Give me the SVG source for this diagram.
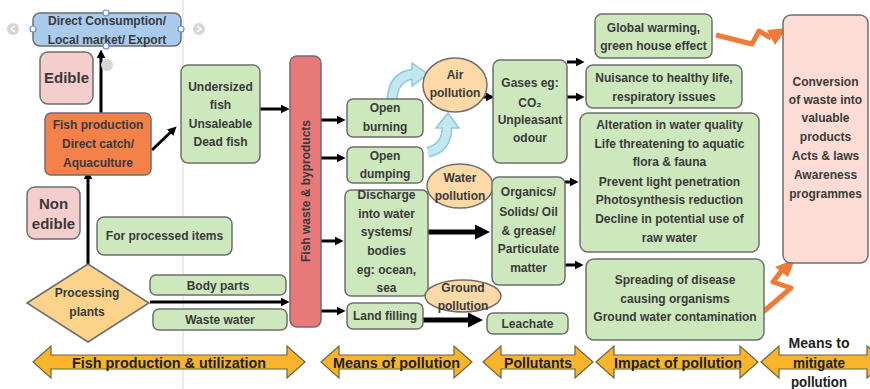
<svg xmlns="http://www.w3.org/2000/svg" width="870" height="389" viewBox="0 0 870 389">
<defs>
<style>
.t{font-family:"Liberation Sans",Arial,sans-serif;font-weight:bold;font-size:12px;fill:#3a3a3a;text-anchor:middle}
.big{font-size:15px}
.g{fill:#cde8bd;stroke:#6e6e6e;stroke-width:1.5}
.pk{fill:#f4cdcd;stroke:#6e6e6e;stroke-width:1.5}
.el{fill:#fcd9a6;stroke:#6e6e6e;stroke-width:1.5}
.c{stroke:#000;stroke-width:3;fill:none;marker-end:url(#ah)}
.ct{stroke:#000;stroke-width:5;fill:none;marker-end:url(#ah)}
.ya{fill:#f8b52c;stroke:#6e6242;stroke-width:1.2}
.at{font-family:"Liberation Sans Narrow","Liberation Sans",Arial,sans-serif;font-weight:bold;font-size:15px;fill:#222;text-anchor:middle}
.zz{stroke:#f07a3a;stroke-width:5;fill:none;stroke-linejoin:round}
.bl{fill:none;stroke:#8ec9da;stroke-width:11}
.bli{fill:none;stroke:#c3e6ef;stroke-width:8}
</style>
<marker id="ah" viewBox="0 0 10 10" refX="6" refY="5" markerWidth="3" markerHeight="3" orient="auto" markerUnits="strokeWidth">
<path d="M0,0 L10,5 L0,10 z" fill="#000"/>
</marker>
</defs>
<rect width="870" height="389" fill="#fff"/>
<line x1="183" y1="0" x2="183" y2="389" stroke="#e4e4e4" stroke-width="1.5"/>

<g id="connectors">
<line class="c" x1="101" y1="113" x2="101" y2="53"/>
<line class="c" x1="152" y1="150" x2="174" y2="129"/>
<line class="c" x1="259" y1="109" x2="286" y2="109"/>
<line class="c" x1="88" y1="265" x2="88" y2="174"/>
<line class="c" x1="150" y1="302" x2="286" y2="302"/>
<line class="c" x1="321" y1="120" x2="342" y2="120"/>
<line class="c" x1="321" y1="158" x2="342" y2="158"/>
<line class="c" x1="321" y1="241" x2="340" y2="241"/>
<line class="c" x1="321" y1="311" x2="342" y2="311"/>
<line class="c" x1="482" y1="97" x2="491" y2="97"/>
<line class="ct" x1="428" y1="232" x2="484" y2="232"/>
<line class="ct" x1="423" y1="320" x2="477" y2="320"/>
<line class="c" x1="567" y1="62" x2="581" y2="62"/>
<line class="c" x1="567" y1="97" x2="581" y2="97"/>
<line class="c" x1="565" y1="182" x2="575" y2="182"/>
<line class="c" x1="565" y1="265" x2="580" y2="265"/>
<path class="bl" d="M392 100 Q393 76 414 74"/>
<path class="bl" d="M428 152 Q447 148 447 127"/>
<polygon points="412,63 428,74 412,86" fill="#c3e6ef" stroke="#8ec9da" stroke-width="1.5"/>
<polygon points="436,128 448,113 459,128" fill="#c3e6ef" stroke="#8ec9da" stroke-width="1.5"/>
<path class="bli" d="M392 101 Q393 76 414 74"/>
<path class="bli" d="M428 152 Q447 148 447 127"/>
<polyline class="zz" points="716,35 752,44 759,31 771,38"/>
<polygon points="767,30 787,28 775,45" fill="#f07a3a"/>
<polyline class="zz" points="763,312 791,288 773,282 782,270"/>
<polygon points="775,267 795,259 788,277" fill="#f07a3a"/>
</g>

<g id="handles">
<circle cx="13" cy="29" r="6" fill="#d6d6d6"/><path d="M15,26 L11,29 L15,32" fill="none" stroke="#fff" stroke-width="1.5"/>
<circle cx="199" cy="29" r="6" fill="#d6d6d6"/><path d="M197,26 L201,29 L197,32" fill="none" stroke="#fff" stroke-width="1.5"/>
<circle cx="107" cy="65" r="6" fill="#d6d6d6"/>
</g>

<g id="direct">
<rect x="33" y="13" width="148" height="33" rx="7" fill="#a9cbee" stroke="#6e6e6e" stroke-width="1.5"/>
<text class="t" x="107" y="25">Direct Consumption/</text>
<text class="t" x="107" y="44">Local market/ Export</text>
<g fill="#fff" stroke="#5b8fd6" stroke-width="1.2">
<circle cx="106" cy="13" r="3"/><circle cx="33" cy="29" r="3"/><circle cx="181" cy="29" r="3"/><circle cx="106" cy="46" r="3"/>
</g>
</g>
<g id="edible">
<rect class="pk" x="40" y="52" width="53" height="52" rx="8"/>
<text class="t big" x="66.5" y="83">Edible</text>
</g>
<g id="fishprod">
<rect x="45" y="113" width="106" height="62" rx="6" fill="#f4804a" stroke="#6e6e6e" stroke-width="1.5"/>
<text class="t" x="98" y="129">Fish production</text>
<text class="t" x="98" y="148">Direct catch/</text>
<text class="t" x="98" y="167">Aquaculture</text>
</g>
<g id="undersized">
<rect class="g" x="181" y="65" width="79" height="98" rx="7"/>
<text class="t" x="220.5" y="91">Undersized</text>
<text class="t" x="220.5" y="109">fish</text>
<text class="t" x="220.5" y="128">Unsaleable</text>
<text class="t" x="220.5" y="146">Dead fish</text>
</g>
<g id="nonedible">
<rect class="pk" x="27" y="187" width="53" height="52" rx="8"/>
<text class="t big" x="53.5" y="209">Non</text>
<text class="t big" x="53.5" y="229">edible</text>
</g>
<g id="processed">
<rect class="g" x="97" y="217" width="135" height="38" rx="7"/>
<text class="t" x="164.5" y="240">For processed items</text>
</g>
<g id="plants">
<polygon points="27,303 88,264 149,303 88,342" fill="#fbd38a" stroke="#6e6e6e" stroke-width="1.5"/>
<text class="t" x="87" y="297">Processing</text>
<text class="t" x="87" y="316">plants</text>
</g>
<g id="bodyparts">
<rect class="g" x="150" y="275" width="136" height="20" rx="6"/>
<text class="t" x="218" y="289.5">Body parts</text>
</g>
<g id="wastewater">
<rect class="g" x="153" y="309" width="134" height="21" rx="6"/>
<text class="t" x="220" y="324">Waste water</text>
</g>
<g id="fishwaste">
<rect x="290" y="56" width="31" height="271" rx="7" fill="#e97a7a" stroke="#6e6e6e" stroke-width="1.5"/>
<text class="t" transform="translate(310,191) rotate(-90)">Fish waste &amp; byproducts</text>
</g>
<g id="burning">
<rect class="g" x="347" y="99" width="76" height="38" rx="6"/>
<text class="t" x="385" y="112">Open</text>
<text class="t" x="385" y="131">burning</text>
</g>
<g id="dumping">
<rect class="g" x="347" y="147" width="76" height="36" rx="6"/>
<text class="t" x="385" y="160">Open</text>
<text class="t" x="385" y="178">dumping</text>
</g>
<g id="discharge">
<rect class="g" x="345" y="190" width="83" height="106" rx="6"/>
<text class="t" x="386.5" y="199">Discharge</text>
<text class="t" x="386.5" y="218">into water</text>
<text class="t" x="386.5" y="236">systems/</text>
<text class="t" x="386.5" y="255">bodies</text>
<text class="t" x="386.5" y="274">eg: ocean,</text>
<text class="t" x="386.5" y="292">sea</text>
</g>
<g id="landfilling">
<rect class="g" x="347" y="303" width="76" height="26" rx="6"/>
<text class="t" x="385" y="320">Land filling</text>
</g>
<g id="air">
<ellipse class="el" cx="455" cy="85" rx="32" ry="27"/>
<text class="t" x="455" y="79">Air</text>
<text class="t" x="455" y="97">pollution</text>
</g>
<g id="water">
<ellipse class="el" cx="460" cy="186" rx="33" ry="22"/>
<text class="t" x="460" y="182">Water</text>
<text class="t" x="460" y="200">pollution</text>
</g>
<g id="ground">
<ellipse class="el" cx="463" cy="296" rx="38" ry="16"/>
<text class="t" x="463" y="292">Ground</text>
<text class="t" x="463" y="310">pollution</text>
</g>
<g id="gases">
<rect class="g" x="493" y="60" width="74" height="103" rx="7"/>
<text class="t" x="530" y="87">Gases eg:</text>
<text class="t" x="530" y="107">CO₂</text>
<text class="t" x="530" y="124">Unpleasant</text>
<text class="t" x="530" y="142">odour</text>
</g>
<g id="organics">
<rect class="g" x="492" y="177" width="73" height="108" rx="7"/>
<text class="t" x="528.5" y="196">Organics/</text>
<text class="t" x="528.5" y="216">Solids/ Oil</text>
<text class="t" x="528.5" y="235">&amp; grease/</text>
<text class="t" x="528.5" y="253">Particulate</text>
<text class="t" x="528.5" y="272">matter</text>
</g>
<g id="leachate">
<rect class="g" x="487" y="313" width="81" height="21" rx="6"/>
<text class="t" x="527.5" y="328">Leachate</text>
</g>
<g id="global">
<rect class="g" x="595" y="14" width="117" height="44" rx="7"/>
<text class="t" x="653.5" y="32">Global warming,</text>
<text class="t" x="653.5" y="50">green house effect</text>
</g>
<g id="nuisance">
<rect class="g" x="586" y="65" width="156" height="43" rx="7"/>
<text class="t" x="664" y="82">Nuisance to healthy life,</text>
<text class="t" x="664" y="101">respiratory issues</text>
</g>
<g id="alteration">
<rect class="g" x="580" y="113" width="179" height="139" rx="8"/>
<text class="t" x="669.5" y="129">Alteration in water quality</text>
<text class="t" x="669.5" y="148">Life threatening to aquatic</text>
<text class="t" x="669.5" y="166">flora &amp; fauna</text>
<text class="t" x="669.5" y="186">Prevent light penetration</text>
<text class="t" x="669.5" y="204">Photosynthesis reduction</text>
<text class="t" x="669.5" y="223">Decline in potential use of</text>
<text class="t" x="669.5" y="242">raw water</text>
</g>
<g id="spreading">
<rect class="g" x="586" y="259" width="178" height="81" rx="8"/>
<text class="t" x="675" y="284">Spreading of disease</text>
<text class="t" x="675" y="303">causing organisms</text>
<text class="t" x="675" y="321">Ground water contamination</text>
</g>
<g id="conversion">
<rect x="783" y="15" width="85" height="248" rx="8" fill="#fcdcd5" stroke="#6e6e6e" stroke-width="1.5"/>
<text class="t" x="825.5" y="86">Conversion</text>
<text class="t" x="825.5" y="104">of waste into</text>
<text class="t" x="825.5" y="122">valuable</text>
<text class="t" x="825.5" y="141">products</text>
<text class="t" x="825.5" y="160">Acts &amp; laws</text>
<text class="t" x="825.5" y="179">Awareness</text>
<text class="t" x="825.5" y="198">programmes</text>
</g>

<g id="stages">
<path class="ya" d="M33,362 L51,346 L51,355 L287,355 L287,346 L305,362 L287,378 L287,369 L51,369 L51,378 Z"/>
<text class="at" x="169" y="368" textLength="194" lengthAdjust="spacingAndGlyphs">Fish production &amp; utilization</text>
<path class="ya" d="M321,362 L339,346 L339,355 L454,355 L454,346 L472,362 L454,378 L454,369 L339,369 L339,378 Z"/>
<text class="at" x="396.5" y="368" textLength="127" lengthAdjust="spacingAndGlyphs">Means of pollution</text>
<path class="ya" d="M483,362 L501,346 L501,355 L575,355 L575,346 L593,362 L575,378 L575,369 L501,369 L501,378 Z"/>
<text class="at" x="538" y="368" textLength="68" lengthAdjust="spacingAndGlyphs">Pollutants</text>
<path class="ya" d="M596,362 L614,346 L614,355 L740,355 L740,346 L758,362 L740,378 L740,369 L614,369 L614,378 Z"/>
<text class="at" x="678" y="368" textLength="128" lengthAdjust="spacingAndGlyphs">Impact of pollution</text>
<path class="ya" d="M761,362 L779,346 L779,355 L867,355 L867,346 L885,362 L867,378 L867,369 L779,369 L779,378 Z"/>
<text class="at" x="819" y="348" textLength="61" lengthAdjust="spacingAndGlyphs">Means to</text>
<text class="at" x="819" y="368" textLength="52" lengthAdjust="spacingAndGlyphs">mitigate</text>
<text class="at" x="819" y="387" textLength="56" lengthAdjust="spacingAndGlyphs">pollution</text>
</g>
</svg>
